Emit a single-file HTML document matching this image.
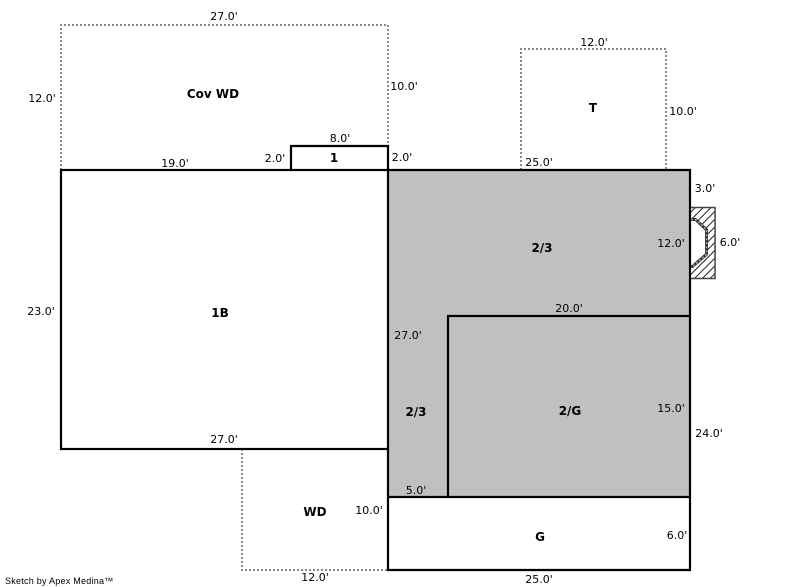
<!DOCTYPE html>
<html><head><meta charset="utf-8"><style>
html,body{margin:0;padding:0;background:#fff}
svg{display:block}
text{font-family:"DejaVu Sans",sans-serif;font-size:11px;fill:#000;text-anchor:middle}
.b{font-weight:bold;font-size:12px}
</style></head><body>
<svg width="800" height="587" viewBox="0 0 800 587" xmlns="http://www.w3.org/2000/svg">
<defs><pattern id="h" width="5.500" height="5.500" patternUnits="userSpaceOnUse" patternTransform="rotate(45)"><rect width="5.500" height="5.500" fill="#fff"/><line x1="0" y1="0" x2="0" y2="5.500" stroke="#222" stroke-width="2"/></pattern></defs>
<rect x="388" y="170" width="302" height="327" fill="#c0c0c0"/>
<g fill="none" stroke="#888" stroke-width="2" stroke-dasharray="2 2">
<path d="M61 170V25H388V146"/>
<path d="M521 170V49H666V170"/>
<path d="M242 449V570H388"/>
</g>
<rect x="690" y="207.500" width="25" height="71" fill="url(#h)" stroke="#444" stroke-width="1.500"/>
<path d="M691 218H696L708 229V255L693 268H691Z" fill="#333"/>
<path d="M691 219.500H695.500L706.500 229.700V254.300L692.500 266.500H691" fill="none" stroke="#aaa" stroke-width="1.500" stroke-dasharray="2 2"/>
<path d="M691 221H695L705 230.500V253.500L692 265H691Z" fill="#fff"/>
<g fill="none" stroke="#000" stroke-width="2.200">
<rect x="61" y="170" width="327" height="279"/>
<path d="M291 170V146H388V170"/>
<path d="M388 170H690V570H388V449"/>
<path d="M388 497H690"/>
<path d="M448 497V316H690"/>
</g>
<text x="224" y="20">27.0'</text>
<text x="42" y="102">12.0'</text>
<text x="404" y="90">10.0'</text>
<text x="594" y="46">12.0'</text>
<text x="683" y="115">10.0'</text>
<text x="340" y="142">8.0'</text>
<text x="175" y="167">19.0'</text>
<text x="275" y="162">2.0'</text>
<text x="402" y="161">2.0'</text>
<text x="539" y="166">25.0'</text>
<text x="705" y="192">3.0'</text>
<text x="671" y="247">12.0'</text>
<text x="730" y="246">6.0'</text>
<text x="41" y="315">23.0'</text>
<text x="569" y="312">20.0'</text>
<text x="408" y="339">27.0'</text>
<text x="671" y="412">15.0'</text>
<text x="709" y="437">24.0'</text>
<text x="224" y="443">27.0'</text>
<text x="416" y="494">5.0'</text>
<text x="369" y="514">10.0'</text>
<text x="677" y="539">6.0'</text>
<text x="315" y="581">12.0'</text>
<text x="539" y="583">25.0'</text>
<text class="b" x="213" y="98">Cov WD</text>
<text class="b" x="593" y="112">T</text>
<text class="b" x="334" y="162">1</text>
<text class="b" x="542" y="252">2/3</text>
<text class="b" x="220" y="317">1B</text>
<text class="b" x="416" y="416">2/3</text>
<text class="b" x="570" y="415">2/G</text>
<text class="b" x="315" y="516">WD</text>
<text class="b" x="540" y="541">G</text>
<text x="5" y="584" style="text-anchor:start;font-size:9px;font-family:'Liberation Sans',sans-serif;letter-spacing:.25px">Sketch by Apex Medina™</text>
</svg>
</body></html>
